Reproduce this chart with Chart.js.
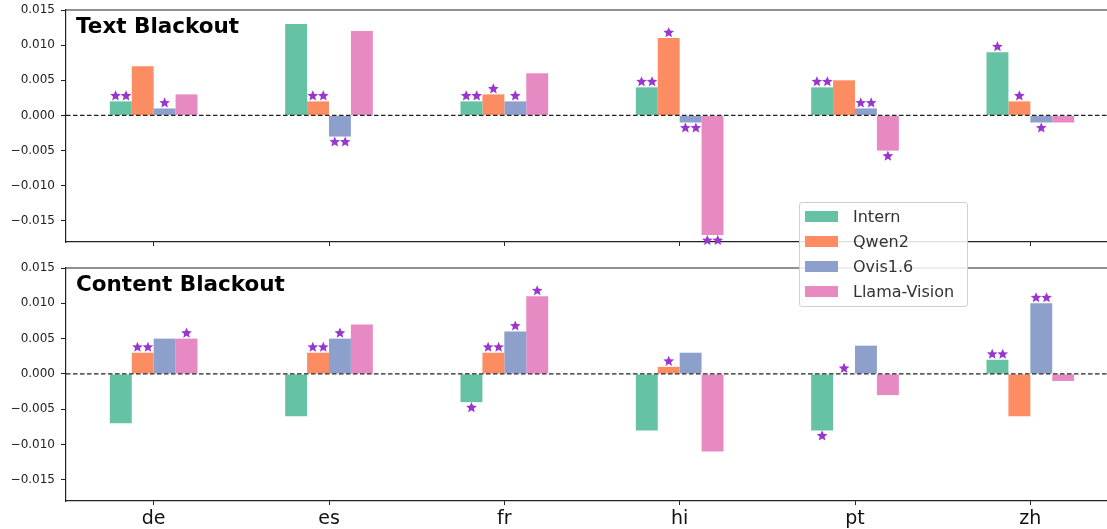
<!DOCTYPE html>
<html><head><meta charset="utf-8">
<script src="https://cdn.jsdelivr.net/npm/chart.js@4.4.0/dist/chart.umd.min.js"></script>
<style>
html,body{margin:0;padding:0;background:#fff;overflow:hidden;width:1107px;height:529px;}
#wrap{position:relative;width:1107px;height:529px;overflow:hidden;background:#fff;}
canvas{position:absolute;left:0;}
#c1{top:0;}
#c2{top:255px;}
#legend{position:absolute;left:799px;top:202px;width:167px;height:103px;border:1px solid #cfcfcf;border-radius:3px;background:rgba(255,255,255,0.85);font-family:'DejaVu Sans',sans-serif;font-size:16px;color:#333;z-index:5;}
.row{position:absolute;left:0;width:100%;height:20px;}
.sw{position:absolute;left:5px;top:4px;width:33px;height:11px;}
.lb{position:absolute;left:53px;top:0;white-space:nowrap;line-height:20px;}
</style></head><body>
<div id="wrap">
<canvas id="c1" width="1125" height="250"></canvas>
<canvas id="c2" width="1125" height="274"></canvas>
<div id="legend"></div>
</div>
<script>
// ---- data ----
const categories = ['de', 'es', 'fr', 'hi', 'pt', 'zh'];
const models = ['Intern', 'Qwen2', 'Ovis1.6', 'Llama-Vision'];
const yTicks = [-0.015, -0.010, -0.005, 0.000, 0.005, 0.010, 0.015];

// Text Blackout
const textIntern = [0.002, 0.013, 0.002, 0.004, 0.004, 0.009];
const textQwen2  = [0.007, 0.002, 0.003, 0.011, 0.005, 0.002];
const textOvis   = [0.001, -0.003, 0.002, -0.001, 0.001, -0.001];
const textLlama  = [0.003, 0.012, 0.006, -0.017, -0.005, -0.001];
const textInternStars = [2, 0, 2, 2, 2, 1];
const textQwen2Stars  = [0, 2, 1, 1, 0, 1];
const textOvisStars   = [1, 2, 1, 2, 2, 1];
const textLlamaStars  = [0, 0, 0, 2, 1, 0];

// Content Blackout
const contentIntern = [-0.007, -0.006, -0.004, -0.008, -0.008, 0.002];
const contentQwen2  = [0.003, 0.003, 0.003, 0.001, 0.000, -0.006];
const contentOvis   = [0.005, 0.005, 0.006, 0.003, 0.004, 0.010];
const contentLlama  = [0.005, 0.007, 0.011, -0.011, -0.003, -0.001];
const contentInternStars = [0, 0, 1, 0, 1, 2];
const contentQwen2Stars  = [2, 2, 2, 1, 1, 0];
const contentOvisStars   = [0, 1, 1, 0, 0, 2];
const contentLlamaStars  = [1, 0, 1, 0, 0, 0];

// ---- styles ----
const colors = ['#66c2a5', '#fc8d62', '#8da0cb', '#e78ac3'];
const STAR_COLOR = '#9a35d2';
const AXIS_COLOR = '#222';

Chart.defaults.font.family = "'DejaVu Sans', sans-serif";

function drawStar(ctx, cx, cy, R) {
  const r = R * 0.45;
  ctx.beginPath();
  for (let k = 0; k < 10; k++) {
    const rad = k % 2 === 0 ? R : r;
    const a = -Math.PI / 2 + k * Math.PI / 5;
    const px = cx + rad * Math.cos(a), py = cy + rad * Math.sin(a);
    if (k === 0) ctx.moveTo(px, py); else ctx.lineTo(px, py);
  }
  ctx.closePath();
  ctx.fill();
}

function makeDecor(title, stars) {
  return {
    id: 'decor_' + title.replace(/\s/g, ''),
    afterDatasetsDraw(chart) {
      const ctx = chart.ctx, area = chart.chartArea, ys = chart.scales.y;
      ctx.save();
      const y0 = ys.getPixelForValue(0);
      ctx.strokeStyle = AXIS_COLOR; ctx.lineWidth = 1.3; ctx.setLineDash([4.5, 2.5]);
      ctx.beginPath(); ctx.moveTo(area.left, y0); ctx.lineTo(area.right, y0); ctx.stroke();
      ctx.setLineDash([]);
      ctx.fillStyle = STAR_COLOR;
      stars.forEach((arr, di) => {
        const meta = chart.getDatasetMeta(di);
        arr.forEach((n, i) => {
          if (!n) return;
          const el = meta.data[i];
          const v = chart.data.datasets[di].data[i];
          const cy = v >= 0 ? el.y - 5.5 : el.y + 5.5;
          for (let k = 0; k < n; k++) {
            drawStar(ctx, el.x + (k - (n - 1) / 2) * 10.5, cy, 5.6);
          }
        });
      });
      ctx.strokeStyle = AXIS_COLOR; ctx.lineWidth = 1.2;
      ctx.beginPath(); ctx.moveTo(area.left, area.top); ctx.lineTo(area.right, area.top); ctx.stroke();
      ctx.fillStyle = '#000';
      ctx.font = "bold 21.5px 'DejaVu Sans', sans-serif";
      ctx.textAlign = 'left'; ctx.textBaseline = 'alphabetic';
      ctx.fillText(title, area.left + 10, area.top + 23);
      ctx.restore();
    }
  };
}

function fmt(v) {
  return Number(v).toFixed(3).replace('-', '\u2212');
}

function makeChart(id, title, seriesList, starList, padTop, xHeight, showLabels) {
  const datasets = seriesList.map((d, i) => ({
    label: models[i], data: d, backgroundColor: colors[i], borderWidth: 0,
    inflateAmount: 0, categoryPercentage: 0.5, barPercentage: 1.0
  }));
  return new Chart(document.getElementById(id), {
    type: 'bar',
    data: { labels: categories, datasets },
    options: {
      responsive: false, animation: false,
      layout: { padding: { top: padTop, right: 7, left: 0, bottom: 0 } },
      plugins: { legend: { display: false }, tooltip: { enabled: false } },
      scales: {
        x: {
          type: 'category', offset: true,
          grid: { offset: false, drawOnChartArea: false, tickLength: 4, color: AXIS_COLOR, lineWidth: 1 },
          border: { display: true, color: AXIS_COLOR, width: 1.2 },
          ticks: { display: showLabels, font: { size: 19 }, color: '#111', padding: 3, maxRotation: 0, autoSkip: false },
          afterFit: s => { s.height = xHeight; s.paddingLeft = 0; s.paddingRight = 0; }
        },
        y: {
          min: -0.018, max: 0.015,
          afterBuildTicks: s => { s.ticks = yTicks.map(v => ({ value: v })); },
          ticks: { font: { size: 12 }, color: '#222', padding: 6, callback: v => fmt(v) },
          grid: { drawOnChartArea: false, tickLength: 5, color: AXIS_COLOR, lineWidth: 1 },
          border: { display: true, color: AXIS_COLOR, width: 1.2 },
          afterFit: s => { s.width = 66; s.paddingTop = 0; s.paddingBottom = 0; }
        }
      }
    },
    plugins: [makeDecor(title, starList)]
  });
}

makeChart('c1', 'Text Blackout',
  [textIntern, textQwen2, textOvis, textLlama],
  [textInternStars, textQwen2Stars, textOvisStars, textLlamaStars], 10, 8, false);
makeChart('c2', 'Content Blackout',
  [contentIntern, contentQwen2, contentOvis, contentLlama],
  [contentInternStars, contentQwen2Stars, contentOvisStars, contentLlamaStars], 13, 28, true);

// legend
const legend = document.getElementById('legend');
models.forEach((m, i) => {
  const row = document.createElement('div');
  row.className = 'row';
  row.style.top = (4 + i * 25) + 'px';
  const sw = document.createElement('div');
  sw.className = 'sw'; sw.style.background = colors[i];
  const lb = document.createElement('div');
  lb.className = 'lb'; lb.textContent = m;
  row.appendChild(sw); row.appendChild(lb);
  legend.appendChild(row);
});
</script>
</body></html>
